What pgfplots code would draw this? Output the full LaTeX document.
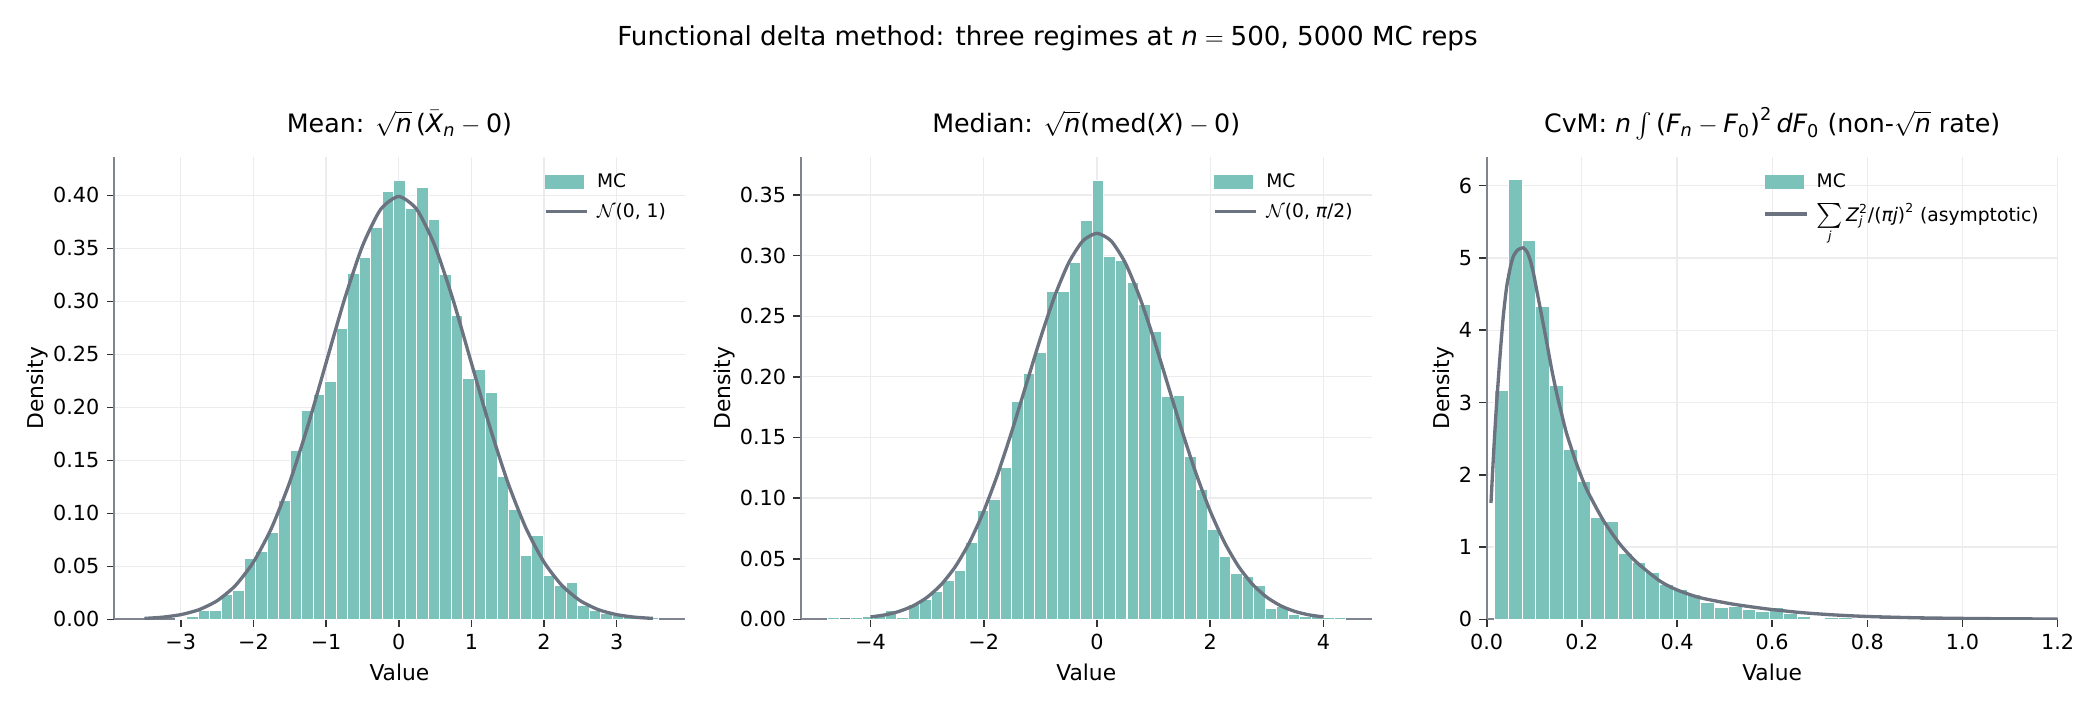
\documentclass[border=0pt]{standalone}
\usepackage{amsmath}
\usepackage{fontspec}
\setmainfont{DejaVu Sans}
\usepackage{pgfplots}
\pgfplotsset{compat=1.18}

\newcommand{\mi}[1]{\text{\itshape #1}}
\newcommand{\mt}[1]{\text{#1}}

\definecolor{histfill}{RGB}{122,194,186}
\definecolor{curvec}{RGB}{107,114,128}
\definecolor{spine}{RGB}{128,132,142}
\definecolor{gridc}{RGB}{236,236,238}

\pgfplotsset{
  panel/.style={
    scale only axis,
    width=275.1pt, height=222.9pt,
    axis x line*=bottom, axis y line*=left,
    axis line style={spine, line width=0.9pt},
    tick align=outside,
    major tick length=3.5pt,
    every tick/.style={black!80, line width=0.8pt},
    grid=major,
    grid style={gridc, line width=0.6pt},
    ticklabel style={font=\fontsize{10}{12}\selectfont},
    label style={font=\fontsize{10.5}{12}\selectfont},
    ylabel shift=-4.5pt,
    title style={font=\fontsize{12.2}{14}\selectfont, anchor=base, yshift=5.6pt},
    xlabel={Value}, ylabel={Density},
    ymin=0,
    legend style={draw=none, fill=none, at={(1,1)}, anchor=north east,
      font=\fontsize{9}{11}\selectfont, row sep=2pt, xshift=-4pt, yshift=-4pt,
      /tikz/column sep=2pt},
    legend cell align=left,
  },
  hist/.style={ybar interval, fill=histfill, draw=white, line width=0.5pt,
    legend image code/.code={\fill[histfill] (0pt,-3.2pt) rectangle (18.3pt,3.2pt);}},
  dens/.style={curvec, line width=1.6pt, smooth, tension=0.4,
    legend image code/.code={\draw[curvec, line width=1.6pt] (0pt,0pt) -- (20pt,0pt);}},
}

\begin{document}
\begin{tikzpicture}
\useasboundingbox (0,0) rectangle (1009.4pt,-341.1pt);

\node[anchor=base, font=\fontsize{12.6}{14}\selectfont] at (504.7pt,-21.7pt)
  {Functional delta method: three regimes at $\mi{n}=\mt{500}$, 5000 MC reps};

% Mean
\begin{axis}[panel,
  at={(54.9pt,-298.4pt)}, anchor=south west,
  title={Mean: $\sqrt{\mi{n}}\,\mt{(}\bar{\mi{X}}_{\mi{n}}-\mt{0)}$},
  xmin=-3.92, xmax=3.94, ymax=0.4365,
  xtick={-3,-2,-1,0,1,2,3},
  xticklabels={−3,−2,−1,0,1,2,3},
  ytick={0,0.05,0.10,0.15,0.20,0.25,0.30,0.35,0.40},
  yticklabels={0.00,0.05,0.10,0.15,0.20,0.25,0.30,0.35,0.40},
]
\addplot[hist] table {
x y
-3.073 0.001
-2.915 0.0025
-2.757 0.008
-2.599 0.008
-2.441 0.023
-2.282 0.027
-2.124 0.057
-1.966 0.064
-1.808 0.082
-1.650 0.112
-1.491 0.159
-1.333 0.1975
-1.175 0.212
-1.017 0.224
-0.859 0.274
-0.700 0.326
-0.542 0.341
-0.384 0.370
-0.226 0.404
-0.068 0.414
0.091 0.388
0.249 0.407
0.407 0.377
0.565 0.325
0.723 0.287
0.882 0.227
1.040 0.236
1.198 0.2145
1.356 0.135
1.514 0.104
1.673 0.060
1.831 0.079
1.989 0.041
2.147 0.0315
2.305 0.035
2.464 0.013
2.622 0.008
2.780 0.0057
2.938 0.004
3.096 0.0025
3.255 0.002
3.413 0.002
3.571 0
};
\addlegendentry{MC}
\addplot[dens] table {
x y
-3.50 0.000873
-3.25 0.002029
-3.00 0.004432
-2.75 0.009094
-2.50 0.017528
-2.25 0.031740
-2.00 0.053991
-1.75 0.086277
-1.50 0.129518
-1.25 0.182649
-1.00 0.241971
-0.75 0.301137
-0.50 0.352065
-0.25 0.386668
0.00 0.398942
0.25 0.386668
0.50 0.352065
0.75 0.301137
1.00 0.241971
1.25 0.182649
1.50 0.129518
1.75 0.086277
2.00 0.053991
2.25 0.031740
2.50 0.017528
2.75 0.009094
3.00 0.004432
3.25 0.002029
3.50 0.000873
};
\addlegendentry{$\mathcal{N}\mt{(0, 1)}$}
\end{axis}

% Median
\begin{axis}[panel,
  at={(385.8pt,-298.4pt)}, anchor=south west,
  title={Median: $\sqrt{\mi{n}}\mt{(med(}\mi{X}\mt{)}-\mt{0)}$},
  xmin=-5.23, xmax=4.85, ymax=0.3815,
  xtick={-4,-2,0,2,4},
  xticklabels={−4,−2,0,2,4},
  ytick={0,0.05,0.10,0.15,0.20,0.25,0.30,0.35},
  yticklabels={0.00,0.05,0.10,0.15,0.20,0.25,0.30,0.35},
]
\addplot[hist] table {
x y
-4.756 0.0012
-4.553 0
-4.350 0.0012
-4.146 0.002
-3.943 0.003
-3.740 0.007
-3.536 0.0014
-3.333 0.012
-3.130 0.0165
-2.926 0.023
-2.723 0.032
-2.520 0.040
-2.316 0.063
-2.113 0.0896
-1.910 0.099
-1.706 0.125
-1.503 0.1795
-1.300 0.203
-1.096 0.220
-0.893 0.270
-0.690 0.270
-0.486 0.294
-0.283 0.329
-0.080 0.362
0.123 0.2996
0.327 0.296
0.530 0.278
0.733 0.2595
0.937 0.237
1.140 0.1836
1.343 0.1844
1.547 0.134
1.750 0.1067
1.953 0.0742
2.157 0.0517
2.360 0.038
2.563 0.035
2.767 0.028
2.970 0.009
3.173 0.011
3.377 0.0044
3.580 0.0027
3.783 0.0027
3.987 0.0014
4.190 0.0014
4.393 0
};
\addlegendentry{MC}
\addplot[dens] table {
x y
-4.00 0.00195
-3.75 0.00362
-3.50 0.00645
-3.25 0.01103
-3.00 0.01814
-2.75 0.02867
-2.50 0.04353
-2.25 0.06353
-2.00 0.08910
-1.75 0.12008
-1.50 0.15553
-1.25 0.19357
-1.00 0.23153
-0.75 0.26613
-0.50 0.29396
-0.25 0.31204
0.00 0.31831
0.25 0.31204
0.50 0.29396
0.75 0.26613
1.00 0.23153
1.25 0.19357
1.50 0.15553
1.75 0.12008
2.00 0.08910
2.25 0.06353
2.50 0.04353
2.75 0.02867
3.00 0.01814
3.25 0.01103
3.50 0.00645
3.75 0.00362
4.00 0.00195
};
\addlegendentry{$\mathcal{N}\mt{(0, }\mi{π}\mt{/2)}$}
\end{axis}

% CvM
\begin{axis}[panel,
  at={(716.3pt,-298.4pt)}, anchor=south west,
  title={CvM: $\mi{n}\int\mt{(}\mi{F}_{\mt{\itshape n}}-\mi{F}_{\mt{0}}\mt{)}^{\mt{2}}\,\mi{dF}_{\mt{0}}$ (non-$\sqrt{\mi{n}}$ rate)},
  xmin=0, xmax=1.2, ymax=6.40,
  xtick={0,0.2,0.4,0.6,0.8,1.0,1.2},
  xticklabels={0.0,0.2,0.4,0.6,0.8,1.0,1.2},
  ytick={0,1,2,3,4,5,6},
  yticklabels={0,1,2,3,4,5,6},
]
\addplot[hist] table {
x y
0.0168 3.166
0.0457 6.082
0.0746 5.242
0.1035 4.329
0.1324 3.230
0.1613 2.344
0.1901 1.901
0.2190 1.407
0.2479 1.352
0.2768 0.918
0.3057 0.785
0.3346 0.655
0.3635 0.480
0.3924 0.415
0.4213 0.346
0.4502 0.231
0.4790 0.162
0.5079 0.175
0.5368 0.130
0.5657 0.106
0.5946 0.160
0.6235 0.083
0.6524 0.037
0.6813 0.009
0.7102 0.023
0.7390 0.023
0.7679 0.009
0.7968 0.005
0.8257 0.004
0.8546 0.002
0.8835 0.002
0.9124 0
};
\addlegendentry{MC}
\addplot[dens] table {
x y
0.009 1.61
0.015 2.35
0.020 2.90
0.028 3.64
0.035 4.20
0.042 4.60
0.050 4.88
0.056 5.02
0.065 5.11
0.077 5.14
0.085 5.08
0.091 4.98
0.098 4.80
0.105 4.56
0.115 4.22
0.126 3.84
0.136 3.48
0.147 3.13
0.158 2.83
0.168 2.57
0.189 2.15
0.210 1.80
0.245 1.37
0.280 1.04
0.315 0.79
0.364 0.53
0.399 0.41
0.448 0.30
0.518 0.21
0.588 0.145
0.658 0.095
0.728 0.062
0.798 0.040
0.900 0.022
1.000 0.013
1.100 0.0075
1.200 0.0045
};
\addlegendentry{$\mathop{\text{\large$\sum$}}\limits_{\mi{j}}\mi{Z}_{\mi{j}}^{\mt{2}}\mt{/(}\mi{πj}\mt{)}^{\mt{2}}$ (asymptotic)}
\end{axis}
\end{tikzpicture}
\end{document}
